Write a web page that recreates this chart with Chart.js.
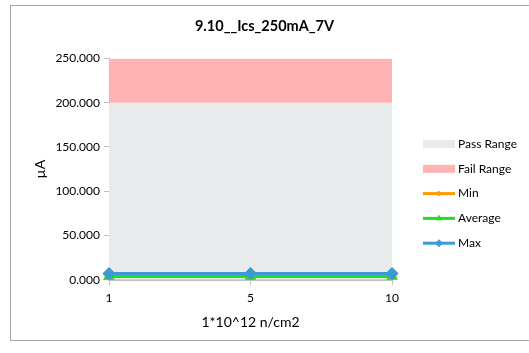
<!DOCTYPE html>
<html lang="en">
<head>
  <meta charset="UTF-8">
  <title>9.10__Ics_250mA_7V</title>
  <style>
    body {
      margin: 0;
      padding: 0;
      background-color: #ffffff;
    }
    .chart-box {
      position: relative;
      width: 529px;
      height: 353px;
      overflow: hidden;
    }
    .frame {
      position: absolute;
      left: 10px;
      top: 5px;
      width: 540px;
      height: 334px;
      border: 1px solid #a6a6a6;
      pointer-events: none;
    }
  </style>
</head>
<body>
  <div class="chart-box">
    <canvas id="icsChart" width="529" height="353"></canvas>
    <div class="frame"></div>
  </div>

  <script src="https://cdn.jsdelivr.net/npm/chart.js"></script>
  <script>
    // Fluence steps (x axis categories)
    const fluence = ['1', '5', '10'];

    // Limits (stacked bands)
    const passRange = [200, 200, 200];
    const failRange = [50, 50, 50];

    // Measured Ics (uA)
    const minValues = [3.8, 3.8, 3.8];
    const avgValues = [3.8, 3.8, 3.8];
    const maxValues = [7.0, 7.0, 7.0];

    const yTicks = [0, 50, 100, 150, 200, 250];

    const failTop = passRange.map((v, i) => v + failRange[i]);

    const FONT = 'Lato, "Liberation Sans", sans-serif';

    // Legend on the right, Excel style (swatch / line with marker)
    const sideLegend = {
      id: 'sideLegend',
      afterDraw(chart) {
        const ctx = chart.ctx;
        const x0 = chart.chartArea.right + 31;
        const startY = 144;
        const gap = 24.8;
        ctx.save();
        ctx.font = '12px ' + FONT;
        ctx.textBaseline = 'middle';
        chart.data.datasets.forEach((ds, i) => {
          const y = startY + i * gap;
          if (ds.fill) {
            ctx.fillStyle = ds.backgroundColor;
            ctx.fillRect(x0, y - 4, 32, 8);
          } else {
            ctx.strokeStyle = ds.borderColor;
            ctx.fillStyle = ds.borderColor;
            ctx.lineWidth = ds.borderWidth;
            ctx.beginPath();
            ctx.moveTo(x0, y);
            ctx.lineTo(x0 + 32, y);
            ctx.stroke();
            ctx.lineWidth = 1;
            Chart.helpers.drawPoint(ctx, {
              pointStyle: ds.pointStyle,
              radius: ds.pointRadius - 1,
              rotation: 0,
              borderWidth: 1
            }, x0 + 16, y);
          }
          ctx.fillStyle = '#000000';
          ctx.fillText(ds.label, x0 + 35, y);
        });
        ctx.restore();
      }
    };

    function lineSet(label, data, color, style, radius, order) {
      return {
        label: label,
        data: data,
        borderColor: color,
        backgroundColor: color,
        pointBackgroundColor: color,
        pointBorderColor: color,
        borderWidth: 3,
        pointStyle: style,
        pointRadius: radius,
        fill: false,
        tension: 0,
        order: order
      };
    }

    new Chart(document.getElementById('icsChart'), {
      type: 'line',
      data: {
        labels: fluence,
        datasets: [
          {
            label: 'Pass Range',
            data: passRange,
            backgroundColor: '#e8ebeb',
            borderWidth: 0,
            pointRadius: 0,
            fill: 'origin',
            order: 5
          },
          {
            label: 'Fail Range',
            data: failTop,
            backgroundColor: '#ffb3b3',
            borderWidth: 0,
            pointRadius: 0,
            fill: '-1',
            order: 4
          },
          lineSet('Min', minValues, '#ff9a00', 'circle', 3, 3),
          lineSet('Average', avgValues, '#22dd22', 'triangle', 4, 2),
          lineSet('Max', maxValues, '#3b9ad6', 'rectRot', 4.5, 1)
        ]
      },
      options: {
        responsive: false,
        animation: false,
        layout: {
          padding: { left: 0, right: 0, top: 6, bottom: 0 }
        },
        plugins: {
          legend: { display: false },
          tooltip: { enabled: false },
          title: {
            display: true,
            text: '9.10__Ics_250mA_7V',
            color: '#000000',
            font: { family: FONT, size: 14.5, weight: 'bold' },
            padding: { top: 12, bottom: 23 }
          }
        },
        scales: {
          x: {
            offset: false,
            grid: {
              display: true,
              drawOnChartArea: false,
              drawTicks: true,
              tickLength: 5,
              color: '#bfbfbf'
            },
            border: { color: '#bfbfbf', width: 2 },
            ticks: {
              color: '#000000',
              font: { family: FONT, size: 12 },
              padding: 6,
              maxRotation: 0
            },
            title: {
              display: true,
              text: '1*10^12 n/cm2',
              color: '#000000',
              font: { family: FONT, size: 14 },
              padding: { top: 3, bottom: 22 }
            }
          },
          y: {
            min: 0,
            max: 250,
            afterBuildTicks(scale) {
              scale.ticks = yTicks.map(v => ({ value: v }));
            },
            afterFit(scale) {
              scale.width = 109;
            },
            grid: {
              display: true,
              drawOnChartArea: false,
              drawTicks: true,
              tickLength: 5,
              color: '#bfbfbf'
            },
            border: { color: '#bfbfbf', width: 1 },
            ticks: {
              color: '#000000',
              font: { family: FONT, size: 12 },
              padding: 4,
              callback: v => v.toFixed(3)
            },
            title: {
              display: true,
              text: 'µA',
              color: '#000000',
              font: { family: FONT, size: 14 },
              padding: { top: 32, bottom: 0 }
            }
          },
          // empty space on the right that holds the legend
          legendSpace: {
            position: 'right',
            display: true,
            min: 0,
            max: 250,
            grid: { display: false },
            border: { display: false },
            ticks: { display: false },
            afterFit(scale) {
              scale.width = 137;
            }
          }
        }
      },
      plugins: [sideLegend]
    });
  </script>
</body>
</html>
